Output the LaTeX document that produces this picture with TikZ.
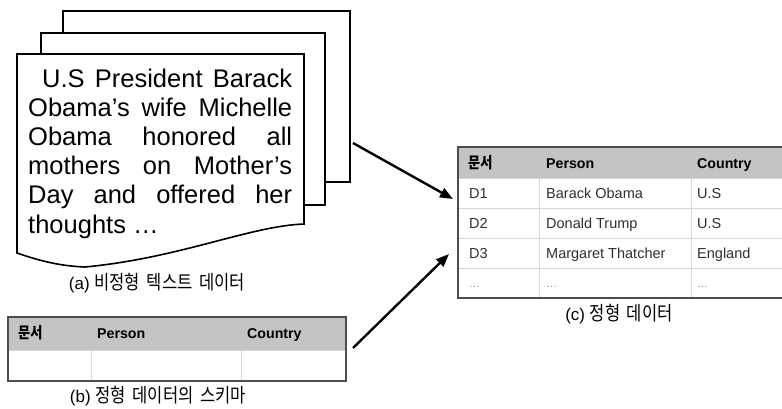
\documentclass[tikz,border=0pt]{standalone}
\usepackage{fontspec}
\setmainfont{Liberation Sans}
\newfontfamily\kr{Noto Sans CJK KR}[FakeStretch=0.85]
\usetikzlibrary{arrows.meta}
\definecolor{hdr}{HTML}{C4C4C4}
\definecolor{bord}{HTML}{4D4D4D}
\definecolor{gridc}{HTML}{D6D6D6}
\definecolor{cellc}{HTML}{2E2E2E}
\definecolor{dotc}{HTML}{8A8A8A}
\newcommand{\krcap}{\fontsize{19.5}{22}\selectfont\kr}
\newcommand{\krhd}{\fontsize{15.5}{18}\selectfont\kr\bfseries}
\begin{document}
\begin{tikzpicture}[x=1pt,y=-1pt,
  page/.style={draw=black, fill=white, line width=1.6pt, line join=miter},
  bodytxt/.style={anchor=base west, inner sep=0pt, font=\fontsize{25.5}{29}\selectfont},
  captxt/.style={anchor=base, inner sep=0pt, font=\fontsize{17}{20}\selectfont},
  hd/.style={anchor=base west, inner sep=0pt, font=\fontsize{14.2}{17}\selectfont\bfseries},
  cl/.style={anchor=base west, inner sep=0pt, font=\fontsize{14.5}{17}\selectfont, text=cellc},
  dt/.style={anchor=base west, inner sep=0pt, font=\fontsize{11}{13}\selectfont, text=dotc},
  gridline/.style={draw=gridc, line width=0.9pt},
  border/.style={draw=bord, line width=1.3pt},
  arr/.style={-{Triangle[length=13pt,width=10pt]}, line width=2.4pt}]
\useasboundingbox (0,0) rectangle (782,409);

% stacked pages
\path[page] (63,11) rectangle (350,182);
\path[page] (41,33) rectangle (325,205);
\path[page] (17,54) -- (304,54) -- (304,224)
  .. controls (250,226) and (180,258) .. (85,267)
  .. controls (60,266) and (40,261) .. (17,253) -- cycle;

\node[bodytxt] (t1) at (42,88)  {\makebox[250pt][s]{U.S President Barack}};
\node[bodytxt] (t2) at (28,117) {\makebox[264pt][s]{Obama’s wife Michelle}};
\node[bodytxt] (t3) at (28,146) {\makebox[264pt][s]{Obama honored all}};
\node[bodytxt] (t4) at (28,175) {\makebox[264pt][s]{mothers on Mother’s}};
\node[bodytxt] (t5) at (28,204) {\makebox[264pt][s]{Day and offered her}};
\node[bodytxt] (t6) at (28,233) {thoughts \ldots};

\node[captxt] (capa) at (157,289) {(a) {\krcap 비정형\hspace{3pt} 텍스트\hspace{3pt} 데이터}};

% schema table (b)
\fill[hdr] (8,317) rectangle (346,350);
\draw[gridline] (8,350) -- (346,350);
\draw[gridline] (91,350) -- (91,381);
\draw[gridline] (241,350) -- (241,381);
\draw[border] (8,317) rectangle (346,381);
\node[hd] (bh1) at (18,338) {\krhd 문서};
\node[hd] (bh2) at (97,338) {Person};
\node[hd] (bh3) at (247,338) {Country};
\node[captxt] (capb) at (158,402) {(b) {\krcap 정형\hspace{3pt} 데이터의\hspace{3pt} 스키마}};

% structured table (c)
\fill[hdr] (458,147) rectangle (786,178);
\foreach \yy in {178,208,238,268} \draw[gridline] (458,\yy) -- (786,\yy);
\draw[gridline] (539,178) -- (539,298);
\draw[gridline] (691,178) -- (691,298);
\draw[border] (458,147) rectangle (786,298);
\node[hd] (ch1) at (468,168) {\krhd 문서};
\node[hd] (ch2) at (546,168) {Person};
\node[hd] (ch3) at (697,168) {Country};
\node[cl] (r1a) at (469,198) {D1};
\node[cl] (r1b) at (546,198) {Barack Obama};
\node[cl] (r1c) at (697,198) {U.S};
\node[cl] (r2a) at (469,228) {D2};
\node[cl] (r2b) at (546,228) {Donald Trump};
\node[cl] (r2c) at (697,228) {U.S};
\node[cl] (r3a) at (469,258) {D3};
\node[cl] (r3b) at (546,258) {Margaret Thatcher};
\node[cl] (r3c) at (697,258) {England};
\node[dt] (r4a) at (469,287) {\ldots};
\node[dt] (r4b) at (546,287) {\ldots};
\node[dt] (r4c) at (697,287) {\ldots};
\node[captxt] (capc) at (619,320) {(c) {\krcap 정형\hspace{3pt} 데이터}};

% arrows
\coordinate (s1) at (353,143);
\coordinate (e1) at (453,199);
\coordinate (s2) at (353,348);
\coordinate (e2) at (449,254);
\draw[arr] (s1) -- (e1);
\draw[arr] (s2) -- (e2);
\end{tikzpicture}
\end{document}
